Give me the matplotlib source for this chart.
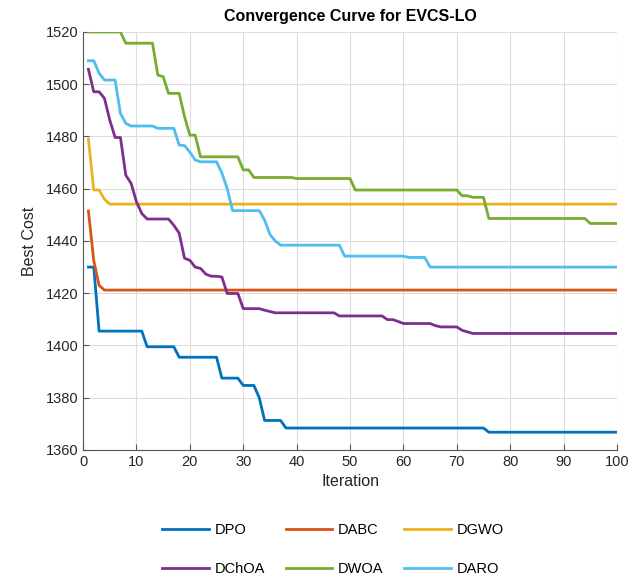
import numpy as np
import matplotlib.pyplot as plt

plt.rcParams['font.family'] = ['Liberation Sans', 'DejaVu Sans']

n_iter = 100

# Each curve: iteration where a new best cost starts, and that best cost
dpo_it = [1, 3, 12, 18, 26, 30, 33, 34, 38, 76]
dpo_val = [1430, 1405.5, 1399.5, 1395.5, 1387.5, 1384.7, 1380, 1371.3, 1368.4, 1366.8]

dabc_it = [1, 2, 3, 4]
dabc_val = [1451.5, 1432.5, 1423, 1421.2]

dgwo_it = [1, 2, 4, 5]
dgwo_val = [1479, 1459.5, 1456, 1454.1]

dchoa_it = [1, 2, 4, 5, 6, 8, 9, 10, 11, 12, 17, 18, 19, 20, 21, 22, 23, 24,
            26, 27, 30, 34, 35, 36, 48, 57, 59, 60, 66, 67, 71, 72, 73]
dchoa_val = [1505.7, 1497.1, 1494.6, 1486.3, 1479.6, 1465.2, 1462, 1455, 1450.5,
             1448.4, 1446, 1443, 1433.4, 1432.6, 1430, 1429.5, 1427.3, 1426.5,
             1426.2, 1419.9, 1414.1, 1413.5, 1413, 1412.5, 1411.3, 1409.9, 1409.2,
             1408.4, 1407.6, 1407.1, 1405.8, 1405.2, 1404.6]

dwoa_it = [1, 8, 14, 15, 16, 19, 20, 22, 30, 32, 40, 51, 71, 73, 76, 95]
dwoa_val = [1520, 1515.7, 1503.5, 1502.9, 1496.5, 1487.6, 1480.5, 1472.2, 1467.2,
            1464.3, 1463.9, 1459.5, 1457.3, 1456.7, 1448.6, 1446.7]

daro_it = [1, 3, 4, 7, 8, 9, 14, 18, 19, 20, 21, 22, 26, 27, 28, 34, 35, 36, 37,
           49, 61, 65]
daro_val = [1509, 1504.2, 1501.6, 1488.8, 1485, 1484, 1483.1, 1476.7, 1476.5,
            1474, 1471, 1470.3, 1466, 1460, 1451.6, 1448, 1442.5, 1440, 1438.4,
            1434.2, 1433.7, 1430]

names = ['DPO', 'DABC', 'DGWO', 'DChOA', 'DWOA', 'DARO']
colors = ['#0072BD', '#D95319', '#EDB120', '#7E2F8E', '#77AC30', '#4DBEEE']
series = [(dpo_it, dpo_val), (dabc_it, dabc_val), (dgwo_it, dgwo_val),
          (dchoa_it, dchoa_val), (dwoa_it, dwoa_val), (daro_it, daro_val)]


def expand(starts, values):
    """Hold each best cost until the next improvement."""
    counts = np.diff(np.array(starts + [n_iter + 1]))
    return np.repeat(values, counts)


fig = plt.figure(figsize=(6.44, 5.78), dpi=100)
ax = fig.add_axes([0.129, 0.2215, 0.829, 0.7232])

iters = np.arange(1, n_iter + 1)
handles = []
for name, col, (st, vals) in zip(names, colors, series):
    line, = ax.plot(iters, expand(st, vals), color=col, lw=2.0, label=name)
    handles.append(line)

ax.set_xlim(0, 100)
ax.set_ylim(1360, 1520)
ax.set_xticks(np.arange(0, 101, 10))
ax.set_yticks(np.arange(1360, 1521, 20))
ax.grid(True, color='#dddddd', lw=0.8)
ax.set_axisbelow(True)
for side in ['top', 'right']:
    ax.spines[side].set_visible(False)
for side in ['left', 'bottom']:
    ax.spines[side].set_color('#555555')
ax.tick_params(direction='in', length=4, color='#555555', labelsize=10.5,
               labelcolor='#262626')

ax.set_title('Convergence Curve for EVCS-LO', fontsize=11.5, fontweight='bold',
             pad=8)
ax.set_xlabel('Iteration', fontsize=11.5, color='#262626', labelpad=4)
ax.set_ylabel('Best Cost', fontsize=11.5, color='#262626', labelpad=6)

# legend laid out row-wise: DPO DABC DGWO / DChOA DWOA DARO
order = [0, 3, 1, 4, 2, 5]
fig.legend([handles[i] for i in order], [names[i] for i in order],
           loc='center', bbox_to_anchor=(0.517, 0.049), ncol=3, frameon=False,
           fontsize=10.5, handlelength=3.2, handletextpad=0.4,
           columnspacing=1.4, labelspacing=1.7, borderpad=0)

fig.savefig('out.png', dpi=100)
